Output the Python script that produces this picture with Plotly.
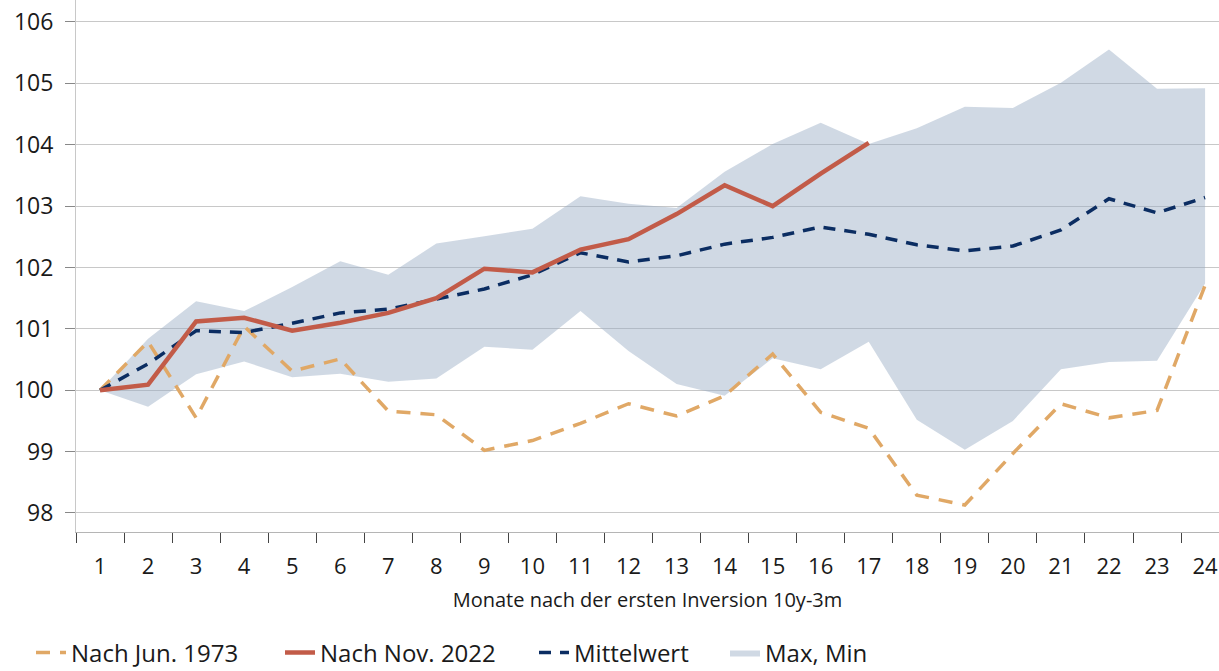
import plotly.graph_objects as go

months = list(range(1, 25))
tick_labels = [str(m) for m in months]

nach_1973 = [100.00, 100.79, 99.55, 101.04, 100.31, 100.51, 99.66, 99.60, 99.02, 99.18,
             99.46, 99.78, 99.58, 99.91, 100.59, 99.64, 99.38, 98.29, 98.13, 98.97,
             99.78, 99.55, 99.67, 101.71]
nach_2022 = [100.00, 100.09, 101.12, 101.18, 100.97, 101.10, 101.26, 101.50, 101.98, 101.92,
             102.29, 102.46, 102.87, 103.34, 103.00, 103.53, 104.03]
mittelwert = [100.00, 100.43, 100.97, 100.94, 101.09, 101.26, 101.32, 101.49, 101.65, 101.88,
              102.24, 102.09, 102.19, 102.38, 102.49, 102.66, 102.54, 102.37, 102.27, 102.35,
              102.61, 103.12, 102.89, 103.14]
band_max = [100.00, 100.84, 101.45, 101.29, 101.68, 102.10, 101.88, 102.39, 102.51, 102.63,
            103.16, 103.04, 102.97, 103.56, 104.01, 104.36, 104.01, 104.27, 104.62, 104.60,
            105.01, 105.55, 104.91, 104.92]
band_min = [100.00, 99.73, 100.26, 100.47, 100.21, 100.27, 100.14, 100.19, 100.71, 100.66,
            101.29, 100.64, 100.10, 99.91, 100.52, 100.34, 100.79, 99.52, 99.03, 99.50,
            100.34, 100.46, 100.48, 101.74]

y_ticks = [98, 99, 100, 101, 102, 103, 104, 105, 106]

FONT = "Open Sans"
TXT = "#1a1a1a"
FIG_W, FIG_H = 1219, 671
PLOT_L, PLOT_T = 76, 0
PLOT_BOTTOM = 532
PLOT_B = FIG_H - PLOT_BOTTOM
PLOT_W = FIG_W - PLOT_L


def lx(px):
    return (px - PLOT_L) / PLOT_W


fig = go.Figure()

fig.add_trace(go.Scatter(x=months, y=band_min, mode="lines", line=dict(width=0, color="rgba(0,0,0,0)"),
                         showlegend=False, hoverinfo="skip"))
fig.add_trace(go.Scatter(x=months, y=band_max, mode="lines", line=dict(width=0, color="rgba(0,0,0,0)"),
                         fill="tonexty", fillcolor="rgba(150,170,195,0.45)",
                         name="Max, Min", legend="legend4"))
fig.add_trace(go.Scatter(x=months, y=nach_1973, mode="lines",
                         line=dict(color="#E0A866", width=3.5, dash="14px,10px"),
                         name="Nach Jun. 1973", legend="legend"))
fig.add_trace(go.Scatter(x=months, y=mittelwert, mode="lines",
                         line=dict(color="#0B2D62", width=3.5, dash="12px,9px"),
                         name="Mittelwert", legend="legend3"))
fig.add_trace(go.Scatter(x=months[:len(nach_2022)], y=nach_2022, mode="lines",
                         line=dict(color="#C25B48", width=4.5),
                         name="Nach Nov. 2022", legend="legend2"))

leg_common = dict(orientation="h", xanchor="left", yref="container",
                  y=(FIG_H - 653) / FIG_H, yanchor="middle",
                  font=dict(size=24, color=TXT), bgcolor="rgba(0,0,0,0)")

fig.update_layout(
    width=FIG_W, height=FIG_H,
    margin=dict(l=PLOT_L, r=0, t=PLOT_T, b=PLOT_B),
    paper_bgcolor="white", plot_bgcolor="white",
    font=dict(family=FONT, color=TXT),
    xaxis=dict(
        range=[0.5, 24.29], automargin=False,
        tickmode="array", tickvals=months, ticktext=tick_labels,
        ticks="", ticklabelstandoff=15, ticklabeloverflow="allow",
        tickfont=dict(size=22, color=TXT),
        showgrid=False, zeroline=False,
        showline=True, linecolor="#b5b5b5", linewidth=1,
        minor=dict(ticks="outside", tick0=0.5, dtick=1, ticklen=10, tickcolor="#444", tickwidth=1, showgrid=False),
        title=dict(text="Monate nach der ersten Inversion 10y-3m", font=dict(size=20, color=TXT), standoff=13),
    ),
    yaxis=dict(
        range=[97.69, 106.358], automargin=False,
        tickmode="array", tickvals=y_ticks,
        ticks="outside", ticklen=10, tickcolor="#888", tickwidth=1,
        ticklabelstandoff=7, ticklabeloverflow="allow",
        tickfont=dict(size=23, color=TXT),
        showgrid=True, gridcolor="#c8c8c8", gridwidth=1.3,
        zeroline=False,
        showline=True, linecolor="#c8c8c8", linewidth=1,
    ),
    legend=dict(x=lx(72 - 41), **leg_common),
    legend2=dict(x=lx(321 - 41), **leg_common),
    legend3=dict(x=lx(575 - 41), **leg_common),
    legend4=dict(x=lx(766 - 41), **leg_common),
    showlegend=True,
)

fig.write_html(
    "out.html",
    config={"displayModeBar": False},
    post_script="document.body.style.margin='0px';document.body.style.overflow='hidden';",
)
